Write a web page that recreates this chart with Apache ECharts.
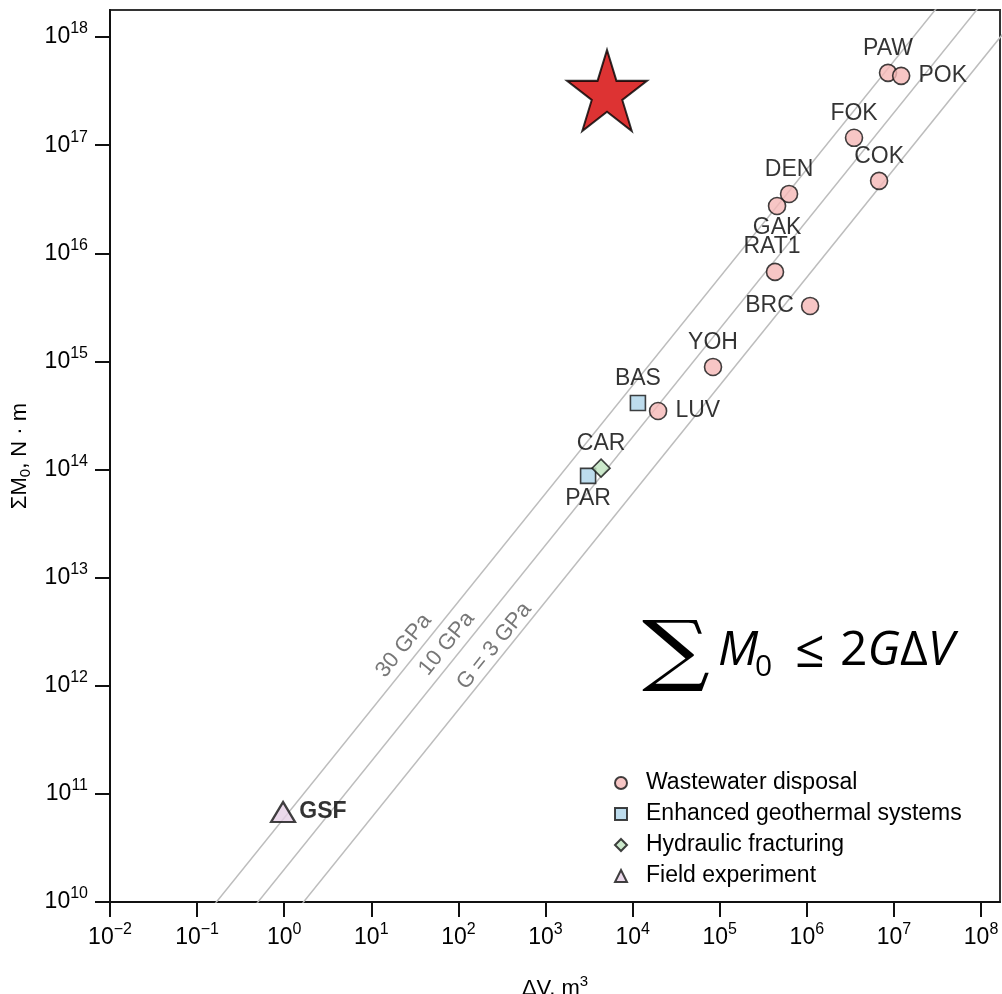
<!DOCTYPE html>
<html>
<head>
<meta charset="utf-8">
<script src="https://cdn.jsdelivr.net/npm/echarts@6/dist/echarts.min.js"></script>
<style>
  html, body { margin: 0; padding: 0; background: #fff; }
  #chart { width: 1002px; height: 994px; }
</style>
</head>
<body>
<div id="chart"></div>
<script>
// Injected volume ΔV (m^3) against cumulative seismic moment ΣM0 (N·m)

const wastewaterNames = ['PAW', 'POK', 'FOK', 'COK', 'DEN', 'GAK', 'RAT1', 'BRC', 'YOH', 'LUV'];
const wastewaterDV    = [8.55e6, 1.21e7, 3.48e6, 6.75e6, 6.25e5, 4.55e5, 4.31e5, 1.09e6, 8.37e4, 1.96e4];
const wastewaterM0    = [4.67e17, 4.38e17, 1.17e17, 4.68e16, 3.54e16, 2.74e16, 6.73e15, 3.26e15, 8.89e14, 3.48e14];

const egsNames = ['BAS', 'PAR'];
const egsDV    = [1.15e4, 3.08e3];
const egsM0    = [4.13e14, 8.73e13];

const fracNames = ['CAR'];
const fracDV    = [4.34e3];
const fracM0    = [1.03e14];

const fieldNames = ['GSF'];
const fieldDV    = [0.97];
const fieldM0    = [6.8e10];

const starDV = [5.08e3];
const starM0 = [3.21e17];

// Shear moduli (GPa) for the bound ΣM0 = 2GΔV
const shearModuli   = [3, 10, 30];
const modulusLabels = ['G = 3 GPa', '10 GPa', '30 GPa'];

const xTickValues = [1e-2, 1e-1, 1e0, 1e1, 1e2, 1e3, 1e4, 1e5, 1e6, 1e7, 1e8];
const yTickValues = [1e10, 1e11, 1e12, 1e13, 1e14, 1e15, 1e16, 1e17, 1e18];

const seriesNames = ['Wastewater disposal', 'Enhanced geothermal systems', 'Hydraulic fracturing', 'Field experiment'];

// ---- styling / layout ----
const FONT = '"Liberation Sans", Arial, Helvetica, sans-serif';
const INK = '#000';

const labelPlacement = {
  PAW:  { position: 'top', distance: 3 },
  POK:  { position: 'right', distance: 8 },
  FOK:  { position: 'top', distance: 3 },
  COK:  { position: 'top', distance: 3 },
  DEN:  { position: 'top', distance: 3 },
  GAK:  { position: 'bottom', distance: 1 },
  RAT1: { position: 'top', distance: 4, offset: [-3, 0] },
  BRC:  { position: 'left', distance: 7 },
  YOH:  { position: 'top', distance: 3 },
  LUV:  { position: 'right', distance: 8 },
  BAS:  { position: 'top', distance: 4 },
  PAR:  { position: 'bottom', distance: 3 },
  CAR:  { position: 'top', distance: 3 },
  GSF:  { position: 'right', distance: 3, fontWeight: 'bold' }
};

// where along each bound line its label sits (ΔV, m^3), and how far off the line
const modulusLabelAt  = { 3: 330, 10: 100, 30: 32 };
const modulusLabelGap = { 3: -12, 10: -15, 30: -15 };

function powerLabel(v) {
  const e = Math.log10(v);
  const r = Math.round(e);
  if (Math.abs(e - r) > 1e-6) return '';
  const txt = r < 0 ? '\u2212' + Math.abs(r) : String(r);
  return '{b|10}{s|' + txt + '}';
}

const powerRich = {
  b: { fontSize: 23, lineHeight: 32, color: INK, fontFamily: FONT },
  s: { fontSize: 16, lineHeight: 16, verticalAlign: 'top', color: INK, fontFamily: FONT }
};

function points(names, dv, m0) {
  return names.map((n, i) => {
    const p = labelPlacement[n] || {};
    return { name: n, value: [dv[i], m0[i]], label: p };
  });
}

const pointLabel = { show: true, formatter: '{b}', color: INK, fontSize: 23, fontFamily: FONT };
const edge = { borderColor: '#111', borderWidth: 1.6 };

const boundSeries = shearModuli.map(g => ({
  type: 'line',
  silent: true,
  showSymbol: false,
  symbol: 'none',
  clip: true,
  z: 1,
  lineStyle: { color: '#bdbdbd', width: 1.5 },
  data: [[1e-3, 2 * g * 1e9 * 1e-3], [1e9, 2 * g * 1e9 * 1e9]]
}));

const boundLabelSeries = {
  type: 'scatter',
  silent: true,
  symbolSize: 1,
  itemStyle: { color: 'rgba(0,0,0,0)' },
  z: 2,
  label: {
    show: true,
    position: 'inside',
    rotate: 51,
    formatter: '{b}',
    color: '#555',
    fontSize: 22,
    fontFamily: FONT
  },
  data: shearModuli.map((g, i) => ({
    name: modulusLabels[i],
    value: [modulusLabelAt[g], 2 * g * 1e9 * modulusLabelAt[g]],
    label: { offset: [0, modulusLabelGap[g]] }
  }))
};

const starPath = 'path://M0,-100L22.45,-30.9L95.1,-30.9L36.3,11.8L58.8,80.9L0,38.2L-58.8,80.9L-36.3,11.8L-95.1,-30.9L-22.45,-30.9Z';

// the bound ΣM0 ≤ 2GΔV, written out piece by piece
function formulaPiece(text, x, y, size, italic) {
  return {
    type: 'text',
    x: x, y: y,
    style: {
      text: text,
      font: (italic ? 'italic ' : '') + size + 'px "Open Sans"',
      fill: '#000',
      align: 'left',
      verticalAlign: 'middle'
    }
  };
}

const formulaRich = {
  r: { fontFamily: '"Open Sans"', fontSize: 48, lineHeight: 56, fill: '#000' },
  i: { fontFamily: '"Open Sans"', fontStyle: 'italic', fontSize: 48, lineHeight: 56, fill: '#000' }
};

const option = {
  animation: false,
  backgroundColor: '#fff',
  textStyle: { fontFamily: FONT },
  grid: {
    left: 110, right: 2, top: 10, bottom: 92,
    outerBoundsMode: 'none',
    containLabel: false,
    show: true, borderColor: '#333', borderWidth: 2
  },
  xAxis: {
    type: 'log',
    logBase: 10,
    min: 0.01,
    max: 1.65e8,
    interval: 1,
    name: '{a|\u0394V, m}{p|3}',
    nameLocation: 'middle',
    nameGap: 72,
    nameMoveOverlap: false,
    nameTextStyle: {
      rich: {
        a: { fontSize: 22, lineHeight: 30, color: INK, fontFamily: FONT },
        p: { fontSize: 15, lineHeight: 15, verticalAlign: 'top', color: INK, fontFamily: FONT }
      }
    },
    axisLine: { show: true, onZero: false, lineStyle: { color: '#111', width: 2 } },
    axisTick: { show: true, length: 15, lineStyle: { color: '#111', width: 2 }, customValues: xTickValues },
    axisLabel: { margin: 20, formatter: powerLabel, rich: powerRich, customValues: xTickValues },
    splitLine: { show: false },
    minorTick: { show: false }
  },
  yAxis: {
    type: 'log',
    logBase: 10,
    min: 1e10,
    max: 1.78e18,
    interval: 1,
    name: '{a|\u03A3M}{q|0}{a|, N \u00B7 m}',
    nameLocation: 'middle',
    nameGap: 77,
    nameMoveOverlap: false,
    nameTextStyle: {
      rich: {
        a: { fontSize: 22, lineHeight: 26, color: INK, fontFamily: FONT },
        q: { fontSize: 15, lineHeight: 15, verticalAlign: 'bottom', color: INK, fontFamily: FONT }
      }
    },
    axisLine: { show: true, onZero: false, lineStyle: { color: '#111', width: 2 } },
    axisTick: { show: true, length: 15, lineStyle: { color: '#111', width: 2 }, customValues: yTickValues },
    axisLabel: { margin: 22, formatter: powerLabel, rich: powerRich, customValues: yTickValues },
    splitLine: { show: false },
    minorTick: { show: false }
  },
  legend: {
    data: seriesNames,
    orient: 'vertical',
    left: 609,
    top: 766,
    itemWidth: 12,
    itemHeight: 12,
    itemGap: 7,
    selectedMode: false,
    textStyle: { fontSize: 23, color: INK, fontFamily: FONT, lineHeight: 24, padding: [0, 0, 0, 14] }
  },
  graphic: [
    {
      type: 'text',
      x: 676, y: 656,
      scaleX: 1.22,
      style: { text: '\u2211', font: '78px "DejaVu Serif"', fill: '#000', align: 'center', verticalAlign: 'middle' }
    },
    formulaPiece('M', 718, 651, 48, true),
    formulaPiece('0', 755, 667, 30, false),
    formulaPiece('\u2264', 795, 652, 52, false),
    {
      type: 'text',
      x: 840, y: 651,
      style: {
        text: '{r|2}{i|G}{r|\u0394}{i|V}',
        rich: formulaRich,
        fill: '#000',
        align: 'left',
        verticalAlign: 'middle'
      }
    }
  ],
  series: [
    ...boundSeries,
    boundLabelSeries,
    {
      name: seriesNames[0],
      type: 'scatter',
      symbol: 'circle',
      symbolSize: 17,
      z: 5,
      itemStyle: Object.assign({ color: '#f5b8b6' }, edge),
      label: pointLabel,
      data: points(wastewaterNames, wastewaterDV, wastewaterM0)
    },
    {
      name: seriesNames[1],
      type: 'scatter',
      symbol: 'rect',
      symbolSize: 15,
      z: 5,
      itemStyle: Object.assign({ color: '#acd3e8' }, edge),
      label: pointLabel,
      data: points(egsNames, egsDV, egsM0)
    },
    {
      name: seriesNames[2],
      type: 'scatter',
      symbol: 'diamond',
      symbolSize: 18,
      z: 6,
      itemStyle: Object.assign({ color: '#bfe4bf' }, edge),
      label: pointLabel,
      data: points(fracNames, fracDV, fracM0)
    },
    {
      name: seriesNames[3],
      type: 'scatter',
      symbol: 'triangle',
      symbolSize: [24, 20],
      z: 5,
      itemStyle: { color: '#e6d0e6', borderColor: '#111', borderWidth: 2.2 },
      label: pointLabel,
      data: points(fieldNames, fieldDV, fieldM0)
    },
    {
      type: 'scatter',
      symbol: starPath,
      symbolSize: [80, 81],
      z: 7,
      itemStyle: { color: '#d40000', borderColor: '#000', borderWidth: 2 },
      data: starDV.map((v, i) => [v, starM0[i]])
    }
  ]
};

const chart = echarts.init(document.getElementById('chart'), null, { renderer: 'canvas' });
chart.setOption(option);
</script>
</body>
</html>
